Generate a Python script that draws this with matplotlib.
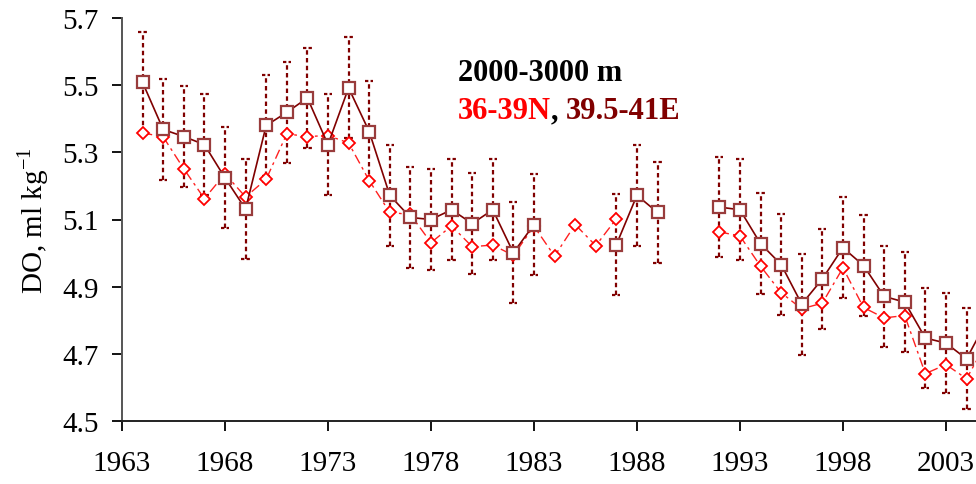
import matplotlib.pyplot as plt
import numpy as np

plt.rcParams['font.family'] = ['Liberation Serif', 'DejaVu Serif']
plt.rcParams['mathtext.fontset'] = 'custom'
plt.rcParams['mathtext.rm'] = 'Liberation Serif'

years = np.arange(1964, 2006)

# 39.5-41E, dark red squares (with +/- error bars)
do_east = [5.508, 5.368, 5.347, 5.323, 5.224, 5.131, 5.380, 5.419, 5.462, 5.323,
           5.492, 5.362, 5.172, 5.106, 5.100, 5.129, 5.088, 5.129, 5.001, 5.085,
           np.nan, np.nan, np.nan, 5.025, 5.172, 5.121, np.nan, np.nan,
           5.137, 5.129, 5.028, 4.966, 4.848, 4.923, 5.016, 4.963, 4.871, 4.854,
           4.747, 4.732, 4.685, 4.800]

# 36-39N, red diamonds
do_north = [5.358, 5.346, 5.251, 5.162, 5.236, 5.167, 5.220, 5.355, 5.347, 5.350,
            5.328, 5.216, 5.121, 5.115, 5.031, 5.081, 5.019, 5.024, 4.993, 5.080,
            4.991, 5.085, 5.022, 5.102, np.nan, np.nan, np.nan, np.nan,
            5.063, 5.051, 4.961, 4.882, 4.834, 4.851, 4.956, 4.838, 4.807, 4.814,
            4.641, 4.668, 4.626, 4.736]

err = 0.15

xticks = list(range(1963, 2004, 5))
yticks = [4.5, 4.7, 4.9, 5.1, 5.3, 5.5, 5.7]

do_east = np.array(do_east)
do_north = np.array(do_north)

fig = plt.figure(figsize=(9.76, 4.85), dpi=100)
ax = fig.add_axes([122 / 976, 63 / 485, 854 / 976, 403 / 485])

dark = '#800000'

# error bars (dotted, with small dotted caps)
ok = ~np.isnan(do_east)
ax.vlines(years[ok], do_east[ok] - err, do_east[ok] + err, colors=dark,
          linestyles=(0, (2, 1.5)), linewidth=1.6, zorder=1)
for sign in (-1, 1):
    ax.hlines(do_east[ok] + sign * err, years[ok] - 0.2, years[ok] + 0.2,
              colors=dark, linestyles=(0, (1.5, 1)), linewidth=1.6, zorder=1)

ax.plot(years, do_north, color='#ff2020', linestyle=(0, (7, 3, 2, 3)), linewidth=1.0,
        marker='D', markersize=6.5, markerfacecolor='white',
        markeredgecolor='#ff0000', markeredgewidth=1.3, zorder=2)
ax.plot(years, do_east, color=dark, linestyle='-', linewidth=1.2,
        marker='s', markersize=8.3, markerfacecolor='white',
        markeredgecolor='#993c3c', markeredgewidth=1.6, zorder=3)

ax.set_xlim(1963, 2004.46)
ax.set_ylim(4.5, 5.7)
ax.set_xticks(xticks)
ax.set_yticks(yticks)
ax.set_yticklabels([f'{v:.1f}' for v in yticks])
ax.tick_params(axis='both', direction='out', length=7, width=1.3, labelsize=21)
ax.tick_params(axis='y', pad=10)
ax.tick_params(axis='x', pad=14)

for s in ('top', 'right'):
    ax.spines[s].set_visible(False)
ax.spines['left'].set_color('#555555')
ax.spines['left'].set_linewidth(1.4)
ax.spines['bottom'].set_color('#222222')
ax.spines['bottom'].set_linewidth(1.4)
for s in ('left', 'bottom'):
    ax.spines[s].set_clip_on(False)

ax.set_ylabel('DO, ml kg$^{-1}$', fontsize=21, labelpad=8)

ax.text(0.393, 0.847, '2000-3000 m', transform=ax.transAxes, fontsize=22,
        fontweight='bold', color='black', ha='left', va='baseline')
t1 = ax.text(0.393, 0.752, '36-39N', transform=ax.transAxes, fontsize=22,
             fontweight='bold', color='#ff0000', ha='left', va='baseline')
fig.canvas.draw()
t2 = ax.annotate(', ', xycoords=t1, xy=(1, 0), va='bottom', fontsize=22,
                 fontweight='bold', color='black')
fig.canvas.draw()
ax.annotate('39.5-41E', xycoords=t2, xy=(1, 0), va='bottom', fontsize=22,
            fontweight='bold', color=dark)

plt.savefig('out.png', dpi=100)
